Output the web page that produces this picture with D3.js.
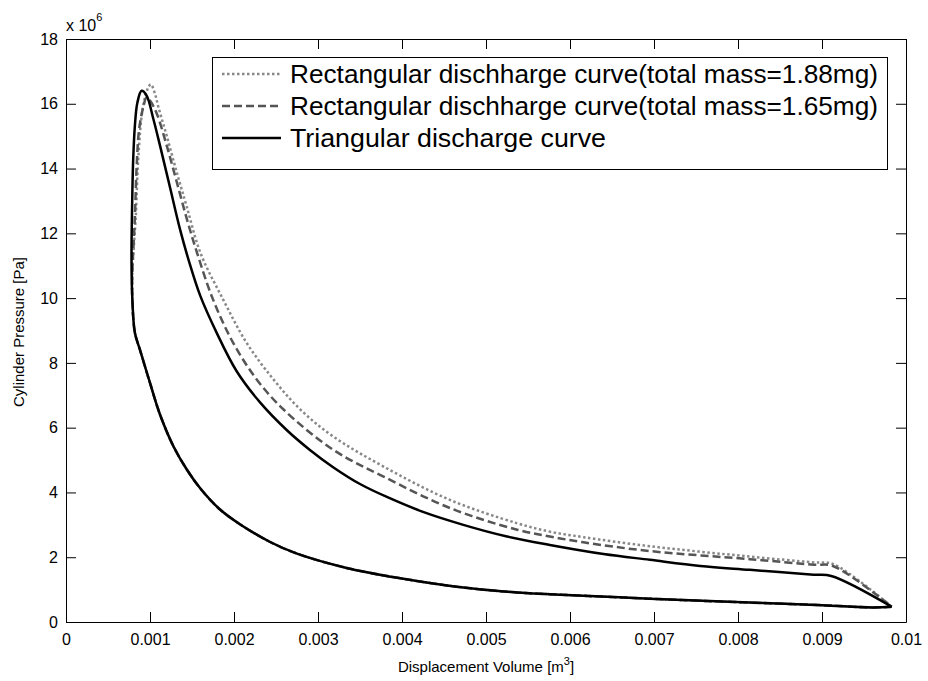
<!DOCTYPE html>
<html><head><meta charset="utf-8">
<script src="https://cdn.jsdelivr.net/npm/d3@7"></script>
<style>body{margin:0;background:#fff}svg{display:block}text{font-family:"Liberation Sans",Arial,sans-serif}</style>
</head><body><svg id="c" width="928" height="681"></svg>
<script>
// Volume in m^3, pressure in units of 1e6 Pa
const xTicks = [0,0.001,0.002,0.003,0.004,0.005,0.006,0.007,0.008,0.009,0.01];
const xTickLabels = ["0","0.001","0.002","0.003","0.004","0.005","0.006","0.007","0.008","0.009","0.01"];
const yTicks = [0,2,4,6,8,10,12,14,16,18];
const yTickLabels = ["0","2","4","6","8","10","12","14","16","18"];
const seriesNames = ["Rectangular dischharge curve(total mass=1.88mg)","Rectangular dischharge curve(total mass=1.65mg)","Triangular discharge curve"];

// shared compression stroke (from BDC to near TDC)
const compression = [[0.00983,0.47],[0.0096,0.45],[0.0090,0.52],[0.00814,0.60],[0.0075,0.66],[0.00695,0.72],[0.00616,0.81],[0.00576,0.86],[0.00537,0.91],[0.00465,1.09],[0.00398,1.35],[0.00334,1.67],[0.00275,2.11],[0.00243,2.47],[0.00207,3.02],[0.00183,3.48],[0.0016,4.12],[0.00144,4.70],[0.00128,5.42],[0.00112,6.40],[0.001,7.38],[0.00088,8.41],[0.00082,8.93],[0.00079,9.95]];

const rect188 = [[0.00079,10.8],[0.00083,12.5],[0.00086,14.3],[0.00091,15.8],[0.00097,16.45],[0.00101,16.6],[0.00106,16.3],[0.0011,15.9],[0.0012,15.0],[0.00132,13.87],[0.00144,12.8],[0.0016,11.4],[0.00187,9.96],[0.00215,8.62],[0.00247,7.49],[0.00279,6.56],[0.00318,5.73],[0.00378,4.80],[0.00457,3.77],[0.00537,3.05],[0.00576,2.79],[0.00616,2.62],[0.00695,2.34],[0.00814,2.02],[0.0089,1.84],[0.00913,1.79],[0.00983,0.47]];

const rect165 = [[0.00079,10.8],[0.00082,12.5],[0.00084,14.0],[0.00087,15.2],[0.00092,15.9],[0.00096,16.2],[0.001,16.1],[0.00108,15.7],[0.0012,14.7],[0.00132,13.57],[0.00144,12.43],[0.00156,11.4],[0.00175,9.96],[0.00199,8.62],[0.00227,7.49],[0.00259,6.56],[0.00318,5.32],[0.00378,4.49],[0.00457,3.52],[0.00537,2.85],[0.00576,2.64],[0.00616,2.46],[0.00695,2.19],[0.00814,1.94],[0.0089,1.77],[0.00913,1.73],[0.00983,0.47]];

const triangular = [[0.00078,11.2],[0.00079,13.26],[0.0008,14.29],[0.00082,15.32],[0.00085,16.04],[0.0009,16.4],[0.00096,16.25],[0.00104,15.53],[0.00112,14.7],[0.00124,13.4],[0.00136,12.1],[0.00148,11.0],[0.0016,10.06],[0.00179,8.95],[0.00203,7.75],[0.00231,6.78],[0.00263,5.92],[0.0029,5.32],[0.00318,4.78],[0.0035,4.26],[0.00382,3.86],[0.00425,3.40],[0.00473,3.0],[0.00525,2.64],[0.00576,2.38],[0.0064,2.10],[0.00695,1.92],[0.00755,1.73],[0.00814,1.61],[0.0089,1.46],[0.00911,1.42],[0.00983,0.47]];

const L=66,R=906,T=39,B=622;
const svg=d3.select("#c");
const x=d3.scaleLinear().domain([0,0.01]).range([L,R]);
const y=d3.scaleLinear().domain([0,18]).range([B,T]);

const fmtX=(d,i)=>xTickLabels[i], fmtY=(d,i)=>yTickLabels[i];
function styleAxis(g){g.selectAll("path").attr("stroke","#000").attr("stroke-width",1);g.selectAll("line").attr("stroke","#000");g.selectAll("text").attr("font-size","16px").attr("fill","#000").attr("font-family","Liberation Sans, Arial, sans-serif");}
svg.append("g").attr("transform",`translate(0,${B})`).call(d3.axisBottom(x).tickValues(xTicks).tickFormat(fmtX).tickSizeInner(-10).tickSizeOuter(0).tickPadding(12)).call(styleAxis);
svg.append("g").attr("transform",`translate(0,${T})`).call(d3.axisTop(x).tickValues(xTicks).tickFormat("").tickSizeInner(-10).tickSizeOuter(0)).call(styleAxis);
svg.append("g").attr("transform",`translate(${L},0)`).call(d3.axisLeft(y).tickValues(yTicks).tickFormat(fmtY).tickSizeInner(-10).tickSizeOuter(0).tickPadding(8)).call(styleAxis);
svg.append("g").attr("transform",`translate(${R},0)`).call(d3.axisRight(y).tickValues(yTicks).tickFormat("").tickSizeInner(-10).tickSizeOuter(0)).call(styleAxis);

const line=d3.line().x(d=>x(d[0])).y(d=>y(d[1])).curve(d3.curveCatmullRom.alpha(0.5));
const styles=[{c:"#888",w:2.5,da:"2.5,2.5"},{c:"#555",w:2.5,da:"8,4"},{c:"#000",w:2.5,da:null}];
const datas=[rect188,rect165,triangular];
const g=svg.append("g");
datas.forEach((d,i)=>{
  const pts=compression.concat(d);
  g.append("path").attr("d",line(pts)).attr("fill","none").attr("stroke",styles[i].c).attr("stroke-width",styles[i].w).attr("stroke-dasharray",styles[i].da).attr("stroke-linejoin","round");
});

// legend
const lg=svg.append("g");
lg.append("rect").attr("x",212.5).attr("y",57.5).attr("width",675).attr("height",112).attr("fill","#fff").attr("stroke","#000").attr("stroke-width",1);
seriesNames.forEach((n,i)=>{
  const cy=74+i*32;
  lg.append("line").attr("x1",222).attr("x2",281).attr("y1",cy).attr("y2",cy).attr("stroke",styles[i].c).attr("stroke-width",styles[i].w).attr("stroke-dasharray",styles[i].da);
  const t=lg.append("text").attr("x",290).attr("y",cy+9).attr("font-size","25px").attr("fill","#000").text(n);
  if(i<2) t.attr("textLength",588).attr("lengthAdjust","spacingAndGlyphs");
  else t.attr("textLength",316).attr("lengthAdjust","spacingAndGlyphs");
});

svg.append("text").attr("x",66).attr("y",31).attr("font-size","16px").text("x 10").append("tspan").attr("dy",-10).attr("font-size","11px").text("6");
svg.append("text").attr("transform","translate(24,332) rotate(-90)").attr("text-anchor","middle").attr("font-size","15px").text("Cylinder Pressure [Pa]");
const xl=svg.append("text").attr("x",486).attr("y",672).attr("text-anchor","middle").attr("font-size","15px").text("Displacement Volume [m");
xl.append("tspan").attr("dy",-7).attr("font-size","11px").text("3");
xl.append("tspan").attr("dy",7).text("]");
</script></body></html>
